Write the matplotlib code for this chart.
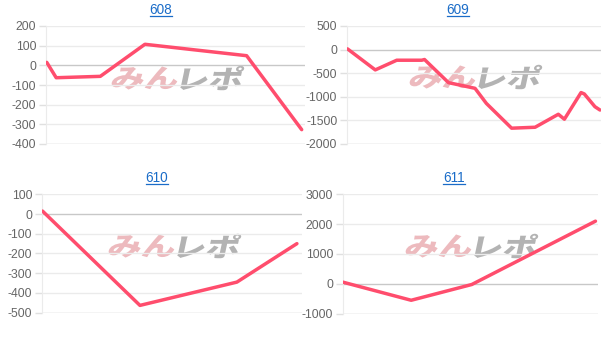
import numpy as np
import matplotlib
matplotlib.use('Agg')
import matplotlib.pyplot as plt
from matplotlib.lines import Line2D
from matplotlib.patches import PathPatch
from matplotlib.textpath import TextPath
from matplotlib.font_manager import FontProperties
from matplotlib.transforms import Affine2D, IdentityTransform

plt.rcParams['font.family'] = ['Liberation Sans', 'DejaVu Sans']

# data (x = progress 0..100, y = difference)
titles = ['608', '609', '610', '611']

x608 = [0, 3.7, 21, 38.5, 78.4, 100]
y608 = [15, -63, -56, 107, 49, -327]

x609 = [0, 11, 19.5, 29.4, 30.5, 40, 50.5, 55, 65, 74.3, 83.5, 85.9, 92.5, 93.8, 98, 100]
y609 = [15, -430, -225, -225, -210, -700, -820, -1140, -1665, -1645, -1370, -1475, -910, -940, -1210, -1280]

x610 = [0, 38.3, 76.4, 100]
y610 = [15, -463, -345, -150]

x611 = [0, 27, 51, 100]
y611 = [56, -550, -22, 2100]

xs = [x608, x609, x610, x611]
ys = [y608, y609, y610, y611]
yticks = [np.arange(-400, 201, 100), np.arange(-2000, 501, 500),
          np.arange(-500, 101, 100), np.arange(-1000, 3001, 1000)]
xlims = [(-0.3, 101.3), (-0.2, 100.4), (-0.2, 102), (0, 101)]

# axes boxes in pixels: left, right, top, bottom
boxes = [(46, 305, 26, 144), (347, 601, 26, 144),
         (42, 302, 194.3, 312.7), (343, 598, 194.3, 313.7)]
title_pos = [(161, 9.5), (458, 9.5), (157, 177.5), (454, 177.5)]
mark_pos = [(175, 78), (473, 77), (172, 246), (469, 246)]

W, H = 615, 342
fig = plt.figure(figsize=(W / 100, H / 100), dpi=100)

line_color = '#ff4d6d'
title_color = '#1a6cc8'
jp = FontProperties(family='Noto Sans CJK JP', weight='black')


def watermark(ax, cx, cy):
    # stylised "みんレポ" logo, skewed and stretched
    parts = [('みん', '#ebb3b7'), ('レポ', '#ababab')]
    paths = [TextPath((0, 0), s, size=26, prop=jp) for s, _ in parts]
    widths = [p.get_extents().width for p in paths]
    sx, gap = 1.3, 4
    total = sum(widths) * sx + gap
    x0 = cx - total / 2
    for (s, c), p, w in zip(parts, paths, widths):
        ext = p.get_extents()
        tr = (Affine2D().translate(-ext.x0, -ext.y0).scale(sx, 1.0)
              .skew_deg(12, 0).translate(x0, H - cy - ext.height / 2))
        ax.add_patch(PathPatch(tr.transform_path(p), facecolor=c, edgecolor='none',
                               alpha=0.9, transform=IdentityTransform(), zorder=1))
        x0 += w * sx + gap


for i in range(4):
    l, r, t, b = boxes[i]
    ax = fig.add_axes([l / W, 1 - b / H, (r - l) / W, (b - t) / H])
    ax.set_facecolor('white')
    ax.plot(xs[i], ys[i], color=line_color, lw=2.5, solid_joinstyle='round',
            solid_capstyle='round', zorder=3)
    ax.set_xlim(*xlims[i])
    ax.set_ylim(yticks[i][0], yticks[i][-1])
    ax.set_yticks(yticks[i])
    ax.set_yticklabels([str(v) for v in yticks[i]])
    ax.set_xticks([])
    for v in yticks[i]:
        c = '#c8c8c8' if v == 0 else '#ebebeb'
        ax.axhline(v, color=c, lw=1.0, zorder=2)
    ax.axhline(yticks[i][0], color='#dcdcdc', lw=1.0, zorder=2)
    for s in ['top', 'right', 'bottom']:
        ax.spines[s].set_visible(False)
    ax.spines['left'].set_color('#ebebeb')
    ax.tick_params(axis='y', length=5, width=1, color='#e0e0e0', pad=2,
                   labelsize=8.8, labelcolor='#666666')
    watermark(ax, *mark_pos[i])

    tx, ty = title_pos[i]
    fig.text(tx / W, 1 - ty / H, titles[i], color=title_color, fontsize=9.8,
             ha='center', va='center')

# underline the titles
fig.canvas.draw()
renderer = fig.canvas.get_renderer()
for t in fig.texts:
    bb = t.get_window_extent(renderer)
    fig.add_artist(Line2D([bb.x0, bb.x1], [bb.y0 + 0.5, bb.y0 + 0.5],
                          color=title_color, lw=0.9, transform=IdentityTransform()))

fig.savefig('out.png', dpi=100)
